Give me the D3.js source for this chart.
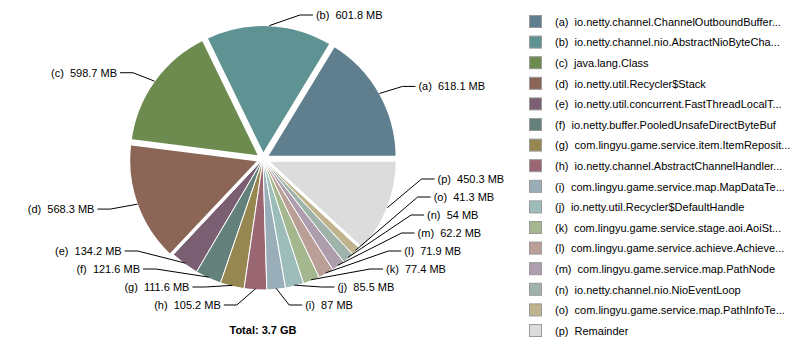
<!DOCTYPE html>
<html>
<head>
<meta charset="utf-8">
<script src="https://cdn.jsdelivr.net/npm/d3@7"></script>
<style>
  html, body { margin: 0; padding: 0; background: #fff; }
  svg text { font-family: "Liberation Sans", Arial, sans-serif; font-size: 11px; fill: #000; white-space: pre; }
</style>
</head>
<body>
<svg id="chart" width="800" height="350"></svg>
<script>
// Retained heap by class (MB)
const keys = ["a","b","c","d","e","f","g","h","i","j","k","l","m","n","o","p"];
const classNames = [
  "io.netty.channel.ChannelOutboundBuffer...",
  "io.netty.channel.nio.AbstractNioByteCha...",
  "java.lang.Class",
  "io.netty.util.Recycler$Stack",
  "io.netty.util.concurrent.FastThreadLocalT...",
  "io.netty.buffer.PooledUnsafeDirectByteBuf",
  "com.lingyu.game.service.item.ItemReposit...",
  "io.netty.channel.AbstractChannelHandler...",
  "com.lingyu.game.service.map.MapDataTe...",
  "io.netty.util.Recycler$DefaultHandle",
  "com.lingyu.game.service.stage.aoi.AoiSt...",
  "com.lingyu.game.service.achieve.Achieve...",
  "com.lingyu.game.service.map.PathNode",
  "io.netty.channel.nio.NioEventLoop",
  "com.lingyu.game.service.map.PathInfoTe...",
  "Remainder"
];
const sizesMB = [618.1, 601.8, 598.7, 568.3, 134.2, 121.6, 111.6, 105.2, 87, 85.5, 77.4, 71.9, 62.2, 54, 41.3, 450.3];

const palette = ["#5f7f8f","#5f9393","#6d8a4f","#8b6556","#7a5f73","#63807a","#968650","#9a6671",
                 "#9aaeba","#9cbdba","#a4b78f","#b99f95","#ad9dad","#9fb3aa","#bfb48d","#dcdcdc"];

const data = keys.map((k, i) => ({ key: k, name: classNames[i], value: sizesMB[i] }));
const total = d3.sum(sizesMB);

const svg = d3.select("#chart");
const cx = 263, cy = 159, r = 131;
const explodeBy = 3.5;
// label ring (elliptical) on which leader elbows sit
const lrx = 160, lry = 148, rowGap = 18, yMin = 15, yMax = 305;

const color = d3.scaleOrdinal().domain(keys).range(palette);

// slices run counter-clockwise from 3 o'clock
const pie = d3.pie().sort(null).value(d => d.value)
  .startAngle(Math.PI / 2).endAngle(Math.PI / 2 - 2 * Math.PI);
const arcs = pie(data);
const arc = d3.arc().innerRadius(0).outerRadius(r);

arcs.forEach(a => {
  a.mid = (a.startAngle + a.endAngle) / 2;
  a.big = a.data.value / total >= 0.1;
  a.off = a.big ? explodeBy : 0;
});

const g = svg.append("g").attr("transform", `translate(${cx},${cy})`);

// small slices first, exploded ones on top with a wider white rim
g.selectAll("path.slice")
  .data(arcs.slice().sort((p, q) => p.big - q.big))
  .join("path")
  .attr("class", "slice")
  .attr("d", arc)
  .attr("transform", d => `translate(${Math.sin(d.mid) * d.off},${-Math.cos(d.mid) * d.off})`)
  .attr("fill", d => color(d.data.key))
  .attr("stroke", "#fff")
  .attr("stroke-width", d => d.big ? 3 : 1)
  .attr("stroke-linejoin", "round");

// label layout: natural y on the ring, then stacked apart per side
arcs.forEach(a => {
  a.side = Math.sin(a.mid) >= 0 ? 1 : -1;
  a.ly = -Math.cos(a.mid) * lry;
});
[1, -1].forEach(side => {
  const group = arcs.filter(a => a.side === side).sort((p, q) => p.ly - q.ly);
  let limit = yMax - cy;
  for (let i = group.length - 1; i >= 0; i--) {
    group[i].ly = Math.min(group[i].ly, limit);
    limit = group[i].ly - rowGap;
  }
  let floor = yMin - cy;
  group.forEach(a => {
    a.ly = Math.max(a.ly, floor);
    floor = a.ly + rowGap;
  });
});
arcs.forEach(a => {
  const t = Math.min(1, Math.abs(a.ly) / lry);
  a.lx = a.side * lrx * Math.sqrt(1 - t * t);
});

const labels = g.append("g");
arcs.forEach(a => {
  const ar = r - 1 + a.off;
  const ax = Math.sin(a.mid) * ar, ay = -Math.cos(a.mid) * ar;
  let ex = a.lx;
  const ey = a.ly;
  // a leader that ends up almost level with its anchor is kept short
  if (Math.abs(ey - ay) < 6) ex = ax + a.side * 27;
  const hx = ex + a.side * 13;
  labels.append("polyline")
    .attr("points", [[ax, ay], [ex, ey], [hx, ey]].map(p => p.join(",")).join(" "))
    .attr("fill", "none").attr("stroke", "#000").attr("stroke-width", 1);
  labels.append("text")
    .attr("x", hx + a.side * 3).attr("y", ey).attr("dy", "0.35em")
    .attr("text-anchor", a.side > 0 ? "start" : "end")
    .text(`(${a.data.key})  ${a.data.value} MB`);
});

svg.append("text")
  .attr("x", cx).attr("y", 330).attr("dy", "0.35em")
  .attr("text-anchor", "middle").style("font-weight", "bold")
  .text(`Total: ${(total / 1024).toFixed(1)} GB`);

// legend
const rowY = d3.scalePoint().domain(keys).range([22, 331]);
const legend = svg.append("g");
const items = legend.selectAll("g").data(data).join("g")
  .attr("transform", d => `translate(529,${rowY(d.key)})`);
items.append("rect")
  .attr("x", 0.5).attr("y", -6.5).attr("width", 12).attr("height", 12)
  .attr("fill", d => color(d.key)).attr("stroke", "#999");
items.append("text")
  .attr("x", 26).attr("dy", "0.35em")
  .text(d => `(${d.key})  ${d.name}`);
</script>
</body>
</html>
